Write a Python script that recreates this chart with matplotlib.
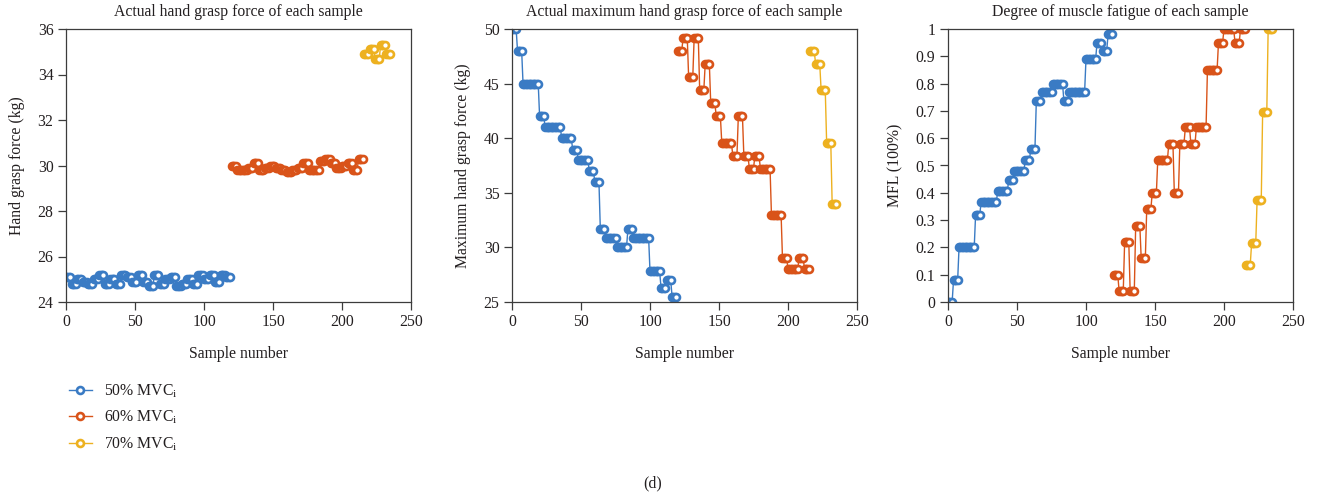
import numpy as np
import matplotlib
matplotlib.use("Agg")
import matplotlib.pyplot as plt

plt.rcParams['font.family'] = ['Liberation Serif', 'DejaVu Serif']
plt.rcParams['mathtext.fontset'] = 'custom'
plt.rcParams['mathtext.rm'] = 'Liberation Serif'
plt.rcParams['mathtext.it'] = 'Liberation Serif:italic'
FS = 11.3
plt.rcParams['font.size'] = FS

# each value below is one plateau of 4 consecutive samples
STEP = 4

# actual hand grasp force (kg)
force_50 = [25.1, 24.8, 25.0, 24.9, 24.8, 25.0, 25.2, 24.8, 25.0, 24.8,
            25.2, 25.1, 24.9, 25.2, 24.9, 24.7, 25.2, 24.8, 25.0, 25.1,
            24.7, 24.8, 25.0, 24.8, 25.2, 25.0, 25.2, 24.9, 25.2, 25.1]
force_60 = [30.0, 29.8, 29.8, 29.9, 30.1, 29.8, 29.9, 30.0, 29.9, 29.8,
            29.7, 29.8, 29.9, 30.1, 29.8, 29.8, 30.2, 30.3, 30.1, 29.9,
            30.0, 30.1, 29.8, 30.3]
force_70 = [34.9, 35.1, 34.7, 35.3, 34.9]

# actual maximum hand grasp force (kg)
maxf_50 = [50, 48, 45, 45, 45, 42, 41, 41, 41, 40, 40, 38.9, 38, 38, 37,
           36, 31.7, 30.9, 30.9, 30, 30, 31.7, 30.9, 30.9, 30.9, 27.8, 27.8,
           26.3, 27, 25.5]
maxf_60 = [48, 49.2, 45.6, 49.2, 44.4, 46.8, 43.2, 42, 39.6, 39.6, 38.4, 42,
           38.4, 37.2, 38.4, 37.2, 37.2, 33, 33, 29, 28, 28, 29, 28]
maxf_70 = [48, 46.8, 44.4, 39.6, 34]

# muscle fatigue level
mfl_50 = [0, 0.08, 0.2, 0.2, 0.2, 0.32, 0.365, 0.365, 0.365, 0.405, 0.405,
          0.447, 0.48, 0.48, 0.52, 0.56, 0.735, 0.77, 0.77, 0.8, 0.8, 0.735,
          0.77, 0.77, 0.77, 0.89, 0.89, 0.95, 0.92, 0.98]
mfl_60 = [0.1, 0.04, 0.22, 0.04, 0.28, 0.16, 0.34, 0.4, 0.52, 0.52, 0.58, 0.4,
          0.58, 0.64, 0.58, 0.64, 0.64, 0.85, 0.85, 0.95, 1.0, 1.0, 0.95, 1.0]
mfl_70 = [0.135, 0.215, 0.375, 0.695, 1.0]

labels = ['50% MVC$_{\\mathrm{i}}$', '60% MVC$_{\\mathrm{i}}$', '70% MVC$_{\\mathrm{i}}$']
colors = ['#3a7bc4', '#d95319', '#edb120']

titles = ['Actual hand grasp force of each sample',
          'Actual maximum hand grasp force of each sample',
          'Degree of muscle fatigue of each sample']
ylabels = ['Hand grasp force (kg)', 'Maximum hand grasp force (kg)', 'MFL (100%)']

txt = '#231f20'
spine_c = '#3c3c3c'

fig = plt.figure(figsize=(13.3, 5), dpi=100)
lefts = [66, 512, 948]
axes = [fig.add_axes([l / 1330, 1 - 302 / 500, 345 / 1330, 273 / 500]) for l in lefts]

panels = [(force_50, force_60, force_70),
          (maxf_50, maxf_60, maxf_70),
          (mfl_50, mfl_60, mfl_70)]

for ax, series, title, ylab in zip(axes, panels, titles, ylabels):
    start = 0
    for vals, c, lab in zip(series, colors, labels):
        y = np.repeat(vals, STEP)
        x = np.arange(start, start + len(y))
        start += len(y)
        ax.plot(x, y, '-o', color=c, lw=1.0, ms=5, mew=1.9, mfc='white',
                label=lab)
    ax.set_title(title, color=txt, fontsize=FS, pad=9)
    ax.set_xlabel('Sample number', color=txt, labelpad=11)
    ax.set_ylabel(ylab, color=txt, labelpad=9)
    ax.set_xlim(0, 250)
    ax.set_xticks(np.arange(0, 251, 50))
    for s in ax.spines.values():
        s.set_color(spine_c)
        s.set_linewidth(0.9)
    ax.tick_params(direction='out', length=5.5, width=0.9, color=spine_c,
                   labelcolor=txt, labelsize=FS, top=False, right=False)

axes[0].set_ylim(24, 36)
axes[0].set_yticks(np.arange(24, 37, 2))
axes[1].set_ylim(25, 50)
axes[1].set_yticks(np.arange(25, 51, 5))
axes[2].set_ylim(0, 1)
axes[2].set_yticks(np.linspace(0, 1, 11))
axes[2].set_yticklabels(['0', '0.1', '0.2', '0.3', '0.4', '0.5', '0.6', '0.7',
                         '0.8', '0.9', '1'])

h, l = axes[0].get_legend_handles_labels()
leg = fig.legend(h, l, loc='upper left', bbox_to_anchor=(0.041, 0.264),
                 frameon=False, handlelength=1.5, handletextpad=0.75,
                 labelspacing=0.6, fontsize=FS)
for t in leg.get_texts():
    t.set_color(txt)

fig.text(653 / 1330, 1 - 483 / 500, '(d)', ha='center', va='center',
         color=txt, fontsize=FS)

fig.savefig('out.png', dpi=100)
